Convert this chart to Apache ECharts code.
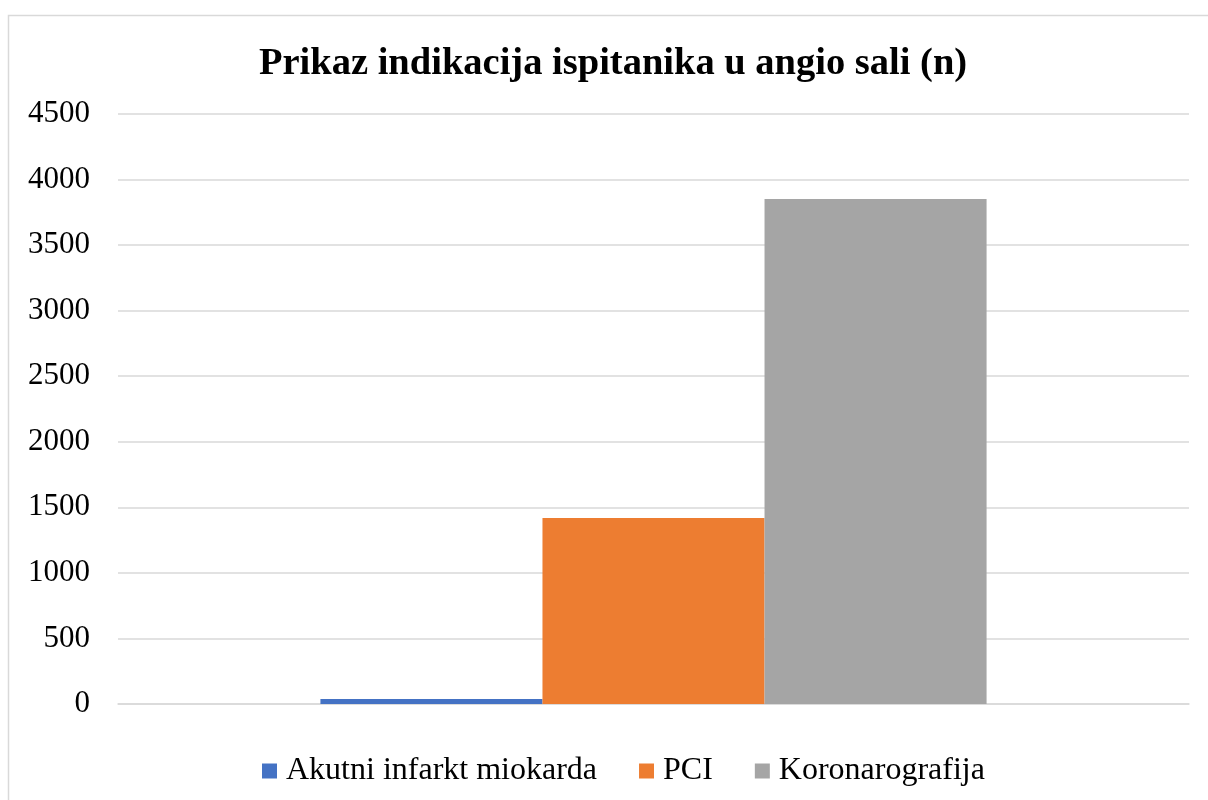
<!DOCTYPE html>
<html>
<head>
<meta charset="utf-8">
<script src="https://cdn.jsdelivr.net/npm/echarts@6/dist/echarts.min.js"></script>
<style>html,body{margin:0;padding:0;background:#fff}#c{width:1208px;height:800px}</style>
</head>
<body>
<div id="c"></div>
<script>
const titleText = 'Prikaz indikacija ispitanika u angio sali (n)';
const categories = [''];
const seriesNames = ['Akutni infarkt miokarda', 'PCI', 'Koronarografija'];
const akutni = [38];
const pci = [1418];
const koronaro = [3852];
const colors = ['#4472C4', '#ED7D31', '#A5A5A5'];
const FONT = "'Liberation Serif', 'Times New Roman', serif";

const chart = echarts.init(document.getElementById('c'), null, {renderer: 'canvas'});
const values = [akutni, pci, koronaro];
chart.setOption({
  animation: false,
  backgroundColor: '#fff',
  graphic: [{
    type: 'rect', silent: true, z: -1,
    shape: {x: 8.5, y: 15.5, width: 1230, height: 820},
    style: {fill: 'none', stroke: '#d9d9d9', lineWidth: 1.5}
  }],
  title: {
    text: titleText,
    left: 259,
    top: 45,
    padding: 0,
    textStyle: {fontFamily: FONT, fontWeight: 'bold', fontSize: 38.5, color: '#000'}
  },
  legend: {
    left: 257,
    top: 750,
    itemWidth: 15,
    itemHeight: 15,
    itemGap: 42,
    icon: 'rect',
    textStyle: {fontFamily: FONT, fontSize: 32, color: '#000', padding: [0, 0, 0, 4]},
    data: seriesNames
  },
  grid: {left: 118, right: 19, top: 114, bottom: 96, containLabel: false},
  xAxis: {
    type: 'category',
    data: categories,
    axisLine: {show: true, lineStyle: {color: '#d9d9d9', width: 1.5}},
    axisTick: {show: false},
    axisLabel: {show: false}
  },
  yAxis: {
    type: 'value',
    min: 0, max: 4500, interval: 500,
    axisLine: {show: false},
    axisTick: {show: false},
    splitLine: {lineStyle: {color: '#d9d9d9', width: 1.5}},
    axisLabel: {fontFamily: FONT, fontSize: 31, color: '#000', margin: 28, formatter: v => String(v)}
  },
  series: seriesNames.map((n, i) => ({
    name: n,
    type: 'bar',
    data: values[i],
    barGap: '0%',
    barCategoryGap: '37.8%',
    itemStyle: {color: colors[i]}
  }))
});
</script>
</body>
</html>
